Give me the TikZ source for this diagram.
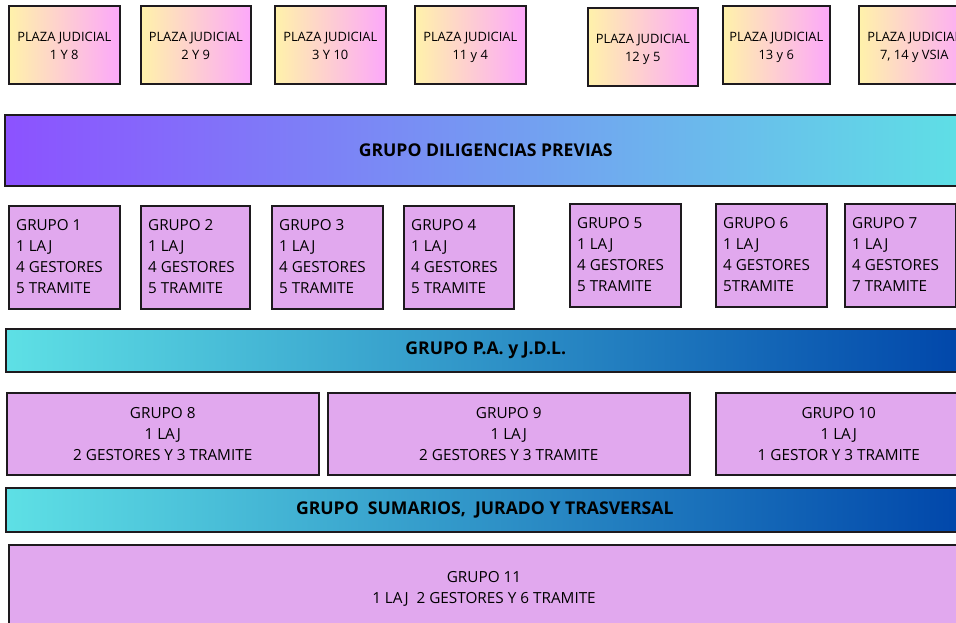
\documentclass[tikz,border=0pt]{standalone}
\usepackage{fontspec}
\setmainfont{Open Sans}
\definecolor{plY}{RGB}{255,242,170}
\definecolor{plP}{RGB}{252,168,250}
\definecolor{gFill}{RGB}{225,168,238}
\definecolor{bPurple}{RGB}{140,82,255}
\definecolor{bCyan}{RGB}{94,224,229}
\definecolor{bBlue}{RGB}{0,70,170}
\definecolor{edge}{RGB}{30,26,30}
\tikzset{
  base/.style={draw=edge, line width=1.5pt, inner sep=0pt, anchor=north west},
  plaza/.style={base, left color=plY, right color=plP},
  ptext/.style={align=center, inner sep=0pt, font=\fontsize{12.9}{17.5}\selectfont},
  gbox/.style={base, fill=gFill},
  wbox/.style={base, fill=gFill, align=center, font=\fontsize{15.3}{21}\selectfont},
  gtext/.style={anchor=west, align=left, inner sep=0pt, font=\fontsize{15.2}{21}\selectfont},
  bandA/.style={base, left color=bPurple, right color=bCyan, font=\fontsize{17.6}{20}\bfseries\selectfont},
  bandB/.style={base, left color=bCyan, right color=bBlue, font=\fontsize{17.6}{20}\bfseries\selectfont},
}
\newcommand{\pl}[1]{\strut PLAZA JUDICIAL\\\strut #1}
\begin{document}
\begin{tikzpicture}[x=1pt,y=-1pt]
\useasboundingbox (0,0) rectangle (956,622);
% plazas
\node[plaza, minimum width=111, minimum height=78] (p1) at (8,5) {};
\node[plaza, minimum width=110, minimum height=78] (p2) at (140,5) {};
\node[plaza, minimum width=111, minimum height=78] (p3) at (274,5) {};
\node[plaza, minimum width=111, minimum height=78] (p4) at (414,5) {};
\node[plaza, minimum width=110, minimum height=78] (p5) at (587,7) {};
\node[plaza, minimum width=107, minimum height=78] (p6) at (722,5) {};
\node[plaza, minimum width=111, minimum height=78] (p7) at (858,5) {};
\node[ptext] (q1) at ([yshift=-2pt]p1.center) {\pl{1 Y 8}};
\node[ptext] (q2) at ([yshift=-2pt]p2.center) {\pl{2 Y 9}};
\node[ptext] (q3) at ([yshift=-2pt]p3.center) {\pl{3 Y 10}};
\node[ptext] (q4) at ([yshift=-2pt]p4.center) {\pl{11 y 4}};
\node[ptext] (q5) at ([yshift=-2pt]p5.center) {\pl{12 y 5}};
\node[ptext] (q6) at ([yshift=-2pt]p6.center) {\pl{13 y 6}};
\node[ptext] (q7) at ([yshift=-2pt]p7.center) {\pl{7, 14 y VSIA}};
% band 1
\node[bandA, minimum width=962, minimum height=71] (b1) at (4,114) {GRUPO DILIGENCIAS PREVIAS};
% groups 1-7
\node[gbox, minimum width=111, minimum height=103] (g1) at (8,205) {};
\node[gbox, minimum width=109, minimum height=103] (g2) at (140,205) {};
\node[gbox, minimum width=111, minimum height=103] (g3) at (271,205) {};
\node[gbox, minimum width=110, minimum height=103] (g4) at (403,205) {};
\node[gbox, minimum width=111, minimum height=103] (g5) at (569,203) {};
\node[gbox, minimum width=111, minimum height=103] (g6) at (715,203) {};
\node[gbox, minimum width=111, minimum height=103] (g7) at (844,203) {};
\node[gtext] (t1) at ([xshift=8pt,yshift=0.5pt]g1.west) {GRUPO 1\\1 LAJ\\4 GESTORES\\5 TRAMITE};
\node[gtext] (t2) at ([xshift=8pt,yshift=0.5pt]g2.west) {GRUPO 2\\1 LAJ\\4 GESTORES\\5 TRAMITE};
\node[gtext] (t3) at ([xshift=8pt,yshift=0.5pt]g3.west) {GRUPO 3\\1 LAJ\\4 GESTORES\\5 TRAMITE};
\node[gtext] (t4) at ([xshift=8pt,yshift=0.5pt]g4.west) {GRUPO 4\\1 LAJ\\4 GESTORES\\5 TRAMITE};
\node[gtext] (t5) at ([xshift=8pt,yshift=0.5pt]g5.west) {GRUPO 5\\1 LAJ\\4 GESTORES\\5 TRAMITE};
\node[gtext] (t6) at ([xshift=8pt,yshift=0.5pt]g6.west) {GRUPO 6\\1 LAJ\\4 GESTORES\\5TRAMITE};
\node[gtext] (t7) at ([xshift=8pt,yshift=0.5pt]g7.west) {GRUPO 7\\1 LAJ\\4 GESTORES\\7 TRAMITE};
% band 2
\node[bandB, minimum width=960, minimum height=43] (b2) at (5,328) {GRUPO P.A. y J.D.L.};
% groups 8-10
\node[wbox, minimum width=312, minimum height=82] (g8) at (6,392) {GRUPO 8\\1 LAJ\\2 GESTORES Y 3 TRAMITE};
\node[wbox, minimum width=362, minimum height=82] (g9) at (327,392) {GRUPO 9\\1 LAJ\\2 GESTORES Y 3 TRAMITE};
\node[wbox, minimum width=246, minimum height=82] (g10) at (715,392) {GRUPO 10\\1 LAJ\\1 GESTOR Y 3 TRAMITE};
% band 3
\node[bandB, minimum width=958, minimum height=44] (b3) at (5,487) {GRUPO\ \ SUMARIOS,\ \ JURADO Y TRASVERSAL};
% group 11
\node[gbox, minimum width=952, minimum height=90] (g11) at (8,544) {};
\node[align=center, inner sep=0pt, font=\fontsize{15.3}{21}\selectfont] (t11) at (484,588.5) {GRUPO 11\\1 LAJ\ \ 2 GESTORES Y 6 TRAMITE};
\end{tikzpicture}
\end{document}
